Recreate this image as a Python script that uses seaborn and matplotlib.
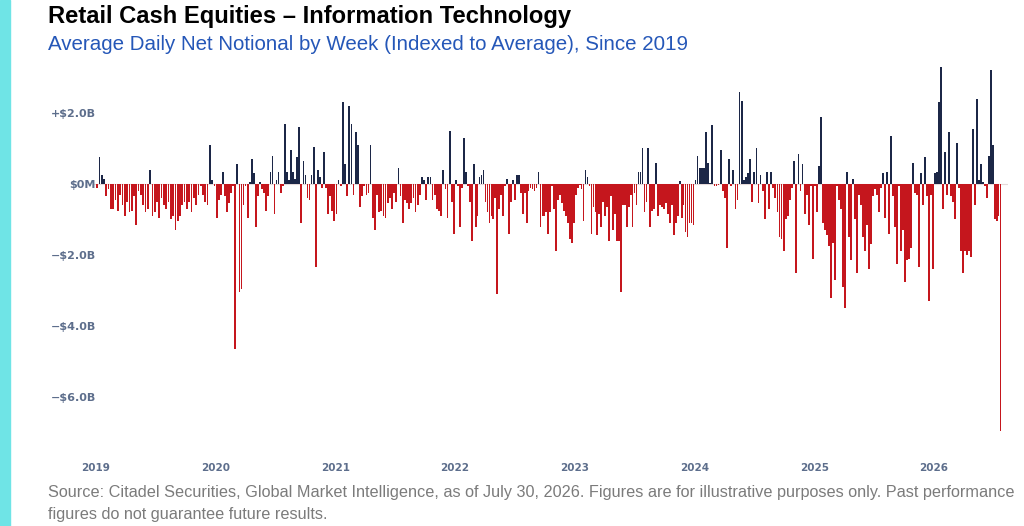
import numpy as np
import pandas as pd
import matplotlib
matplotlib.use("Agg")
import matplotlib.pyplot as plt
import seaborn as sns

# Weekly average daily net notional ($B), one list per year
vals_2019 = [-0.1, 0.75, 0.25, 0.15, -0.35, -0.15, -0.7, -0.7, -0.45, -0.75, -0.3, -0.6, -0.9,
             -0.5, -0.8, -0.75, -0.35, -1.15, -0.2, -0.3, -0.6, -0.8, -0.7, 0.4, -0.9, -0.8,
             -0.5, -0.95, -0.4, -0.6, -0.7, -0.5, -1.0, -0.9, -1.3, -1.05, -0.9, -0.6, -0.5,
             -0.7, -0.5, -0.8, -0.4, -0.6, -0.3, -0.05, -0.3, -0.5, -0.6, 1.1, 0.1, -0.05]
vals_2020 = [-0.95, -0.45, -0.3, 0.35, -0.35, -0.8, -0.55, -0.25, -0.05, -4.65, 0.55, -3.05,
             -2.95, -0.6, -0.05, -0.95, 0.05, 0.7, 0.3, -1.2, -0.35, 0.05, -0.15, -0.25, -0.75,
             -0.35, 0.35, 0.8, -0.85, 0.1, 0.35, -0.25, -0.05, 1.7, 0.35, 0.1, 0.95, 0.35, 0.15,
             0.75, 1.6, -1.1, 0.65, 0.25, -0.4, -0.45, 0.25, 1.05, -2.35, 0.4, 0.2, -0.1, 0.9,
             -0.1, -0.85, -0.35, -0.75, -1.05]
vals_2021 = [-0.85, 0.1, -0.05, 2.3, 0.55, -0.35, 2.2, 1.7, -0.3, 1.45, 1.1, -0.65, -0.35,
             -0.05, -0.3, -0.25, 1.1, -0.95, -1.3, -0.3, -0.8, -0.75, -0.9, -0.95, -0.55, -0.4,
             -0.7, -0.25, -0.5, 0.45, -0.35, -1.1, -0.45, -0.55, -0.7, -0.55, -0.4, -0.8, -0.6,
             -0.3, 0.2, 0.1, -0.45, 0.2, 0.2, -0.45, -0.3, -0.7, -0.75, -0.9, 0.4, -0.15, -0.95,
             1.5, -0.5, -1.4]
vals_2022 = [0.1, -0.05, -1.2, -0.1, 1.3, 0.35, -0.05, -0.5, -1.6, 0.55, -1.2, -0.9, 0.2,
             0.25, 0.4, -0.5, -0.8, -1.1, -0.9, -1.0, -0.4, -3.1, -0.7, -0.3, -0.9, -0.05, 0.15,
             -1.4, -0.5, 0.1, -0.45, 0.25, 0.25, -0.25, -0.85, -0.25, -1.1, -0.2, -0.1, -0.15,
             -0.2, -0.1, 0.35, -1.2, -0.9, -0.9, -0.8, -1.4, -0.8, -0.05, -0.7, -1.9, -0.45,
             -0.3, -0.55, -0.75, -0.9, -1.1, -1.55, -1.65, -1.1]
vals_2023 = [-0.3, -0.1, -0.02, -0.15, -1.05, 0.4, 0.2, -0.05, -1.4, -0.65, -0.8, -1.45, -0.85,
             -1.2, -0.5, -0.9, -0.65, -1.6, -0.35, -1.3, -0.85, -1.6, -1.6, -3.05, -0.6, -0.6,
             -1.2, -0.65, -0.3, -1.2, -0.25, -0.6, 0.35, 0.35, 1.0, -0.8, -0.5, 1.0, -1.2, -0.75,
             -0.7, 0.6, -0.9, -0.6, -0.65, -0.7, -0.55, -0.85, -1.1, -0.6, -1.45, -1.1, -0.9,
             0.08, -0.95, -0.6, -1.35, -1.5, -1.1, -1.1, -1.15]
vals_2024 = [0.1, 0.8, 0.45, 0.45, 0.45, 1.45, 0.6, 0.02, 1.65, -0.05, -0.05, -0.03, 0.95,
             -0.2, -0.4, -1.8, 0.7, -0.05, 0.4, -0.7, -0.45, 2.6, 2.35, 0.1, 0.2, 0.3, 0.7, -0.5,
             0.35, 1.0, -0.55, 0.25, -0.2, -1.0, 0.35, -0.7, 0.35, -0.1, -0.4, -0.8, -1.5, -1.55,
             -1.9, -1.0, -0.9, -0.45, -0.1, 0.65, -2.5, 0.85, -0.2, 0.55, -0.85, -0.3, -1.15,
             -0.05, -2.1]
vals_2025 = [-0.05, -0.8, 0.5, 1.9, -1.1, -1.3, -1.45, -1.75, -3.2, -1.65, -2.7, -0.05, -0.45,
             -0.7, -2.9, -3.5, 0.35, -1.5, -2.15, 0.15, -1.0, -2.5, -0.3, -0.6, -1.5, -1.9,
             -1.15, -2.4, -1.7, -0.35, -0.15, -0.3, -0.8, -0.1, 0.3, -0.95, 0.35, -1.4, 1.35,
             -0.35, -1.2, -2.25, -0.05, -1.9, -1.3, -2.75, -2.15, -2.1, -1.8, 0.6, -0.25, -0.3,
             -2.35, 0.3, -0.6, 0.75, -0.35, -3.3, -0.3, -2.4]
vals_2026 = [0.3, 0.35, 2.3, 3.3, -0.7, 0.9, -0.3, 1.45, -0.35, -0.5, -1.0, 1.15, -0.1, -1.9,
             -2.5, -1.9, -2.0, -1.9, -2.05, 1.55, -0.6, 2.4, 0.1, 0.55, 0.05, -0.05, -0.4, 0.8,
             3.2, 1.1, -1.0, -1.05, -0.9, -6.95]

years = [2019, 2020, 2021, 2022, 2023, 2024, 2025, 2026]
year_vals = [vals_2019, vals_2020, vals_2021, vals_2022, vals_2023, vals_2024, vals_2025, vals_2026]

ytick_vals = [2, 0, -2, -4, -6]
ytick_labels = ["+$2.0B", "$0M", "\u2212$2.0B", "\u2212$4.0B", "\u2212$6.0B"]

POS_COLOR = "#1c2747"
NEG_COLOR = "#c5161d"

# spread each year's bars evenly across that year (partial 2026 uses the typical spacing)
rows = []
for yr, vals in zip(years, year_vals):
    n = len(vals) if yr < 2026 else 60
    for i, v in enumerate(vals):
        rows.append({"t": round(yr + (i + 0.5) / n, 5), "value": v})
df = pd.DataFrame(rows)

sns.set_style("white")
plt.rcParams["font.family"] = ["Liberation Sans", "DejaVu Sans"]

fig = plt.figure(figsize=(10.24, 5.26), dpi=100)
ax = fig.add_axes([0.0914, 0.1643, 0.893, 0.7222])

ax.axhline(0, color="#e6dada", lw=0.8, zorder=0)
sns.barplot(data=df, x="t", y="value", native_scale=True, color=NEG_COLOR,
            linewidth=0, saturation=1, errorbar=None, ax=ax)

# same thin width for every bar, navy above zero and red below
bar_w = 0.85 / 60
for p in ax.patches:
    c = p.get_x() + p.get_width() / 2
    p.set_width(bar_w)
    p.set_x(c - bar_w / 2)
    p.set_facecolor(POS_COLOR if p.get_height() >= 0 else NEG_COLOR)
    p.set_edgecolor("none")

ax.set_xlim(2018.98, 2026.62)
ax.set_ylim(-7.2, 3.5)
ax.set_xticks(years)
ax.set_xticklabels([str(y) for y in years], fontsize=7.5, fontweight="bold",
                   color="#5d6e8c", family="DejaVu Sans")
ax.set_yticks(ytick_vals)
ax.set_yticklabels(ytick_labels, fontsize=8, fontweight="bold",
                   color="#5d6e8c", family="DejaVu Sans")
ax.tick_params(axis="x", length=0, pad=17)
ax.tick_params(axis="y", length=0, pad=-1.5)
ax.set_xlabel("")
ax.set_ylabel("")
sns.despine(ax=ax, left=True, bottom=True)

# cyan accent bar on the left edge
fig.patches.append(plt.Rectangle((0, 0), 10 / 1024, 1, transform=fig.transFigure,
                                 color="#6fe4e6", zorder=0))

fig.text(48 / 1024, 1 - 17 / 526, "Retail Cash Equities \u2013 Information Technology",
         fontsize=17.1, fontweight="bold", color="black", va="center", ha="left")
fig.text(48 / 1024, 1 - 45 / 526,
         "Average Daily Net Notional by Week (Indexed to Average), Since 2019",
         fontsize=14.8, color="#2557b8", va="center", ha="left")
fig.text(48 / 1024, 1 - 492 / 526,
         "Source: Citadel Securities, Global Market Intelligence, as of July 30, 2026. "
         "Figures are for illustrative purposes only. Past performance",
         fontsize=11.7, color="#7b7b7b", va="center", ha="left")
fig.text(48 / 1024, 1 - 514 / 526, "figures do not guarantee future results.",
         fontsize=11.7, color="#7b7b7b", va="center", ha="left")

fig.savefig("out.png", dpi=100)
